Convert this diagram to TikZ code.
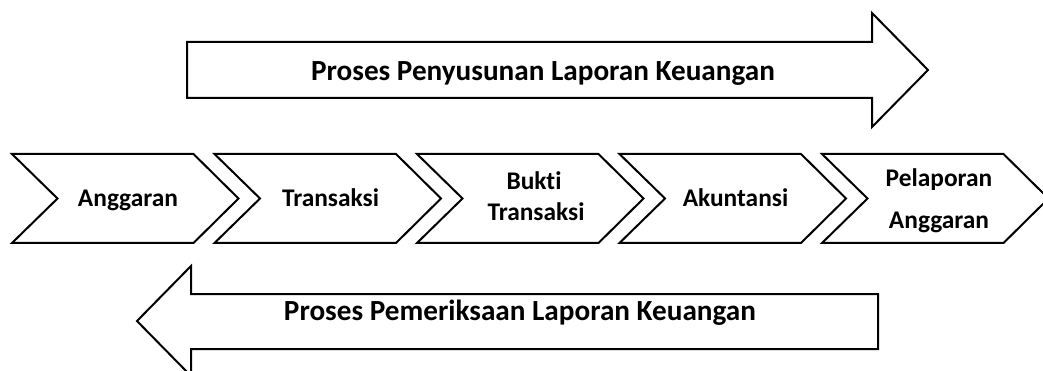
\documentclass[tikz,border=0pt]{standalone}
\usepackage{fontspec}
\setmainfont{Carlito}[Ligatures=NoCommon]
\newcommand\lblfont{\fontsize{25.4}{30}\selectfont\bfseries}
\newcommand\bigfont{\fontsize{29.2}{34}\selectfont\bfseries}
\tikzset{
  outlinebox/.style={draw=black, line width=2pt, fill=white, line join=miter},
  lbl/.style={font=\lblfont, inner sep=0pt, anchor=base},
  biglbl/.style={font=\bigfont, inner sep=0pt, anchor=base}
}
\begin{document}
\begin{tikzpicture}[x=1pt,y=-1pt]
\fill[white] (0,0) rectangle (1043,371);
\useasboundingbox (0,0) rectangle (1043,371);
% top arrow
\draw[outlinebox] (187,42) -- (872,42) -- (872,13) -- (928,70) -- (872,127) -- (872,98) -- (187,98) -- cycle;
\node[biglbl] (top) at (543,81) {Proses Penyusunan Laporan Keuangan};
% bottom arrow
\draw[outlinebox] (878,294) -- (191,294) -- (191,266) -- (137,321) -- (191,376) -- (191,349) -- (878,349) -- cycle;
\node[biglbl] (bottom) at (520,320) {Proses Pemeriksaan Laporan Keuangan};
% chevrons
\foreach \L in {12,214.5,417,619.5,822}{
  \draw[outlinebox] (\L,154) -- ({\L+181.5},154) -- ({\L+226.5},198.5) -- ({\L+181.5},243) -- (\L,243) -- ({\L+45.5},198.5) -- cycle;
}
\node[lbl] (c1) at (128,207) {Anggaran};
\node[lbl] (c2) at (330.5,207) {Transaksi};
\node[lbl] (c3a) at (534,190) {Bukti};
\node[lbl] (c3b) at (536,221) {Transaksi};
\node[lbl] (c4) at (735.5,207) {Akuntansi};
\node[lbl] (c5a) at (939,187) {Pelaporan};
\node[lbl] (c5b) at (939,229) {Anggaran};
\end{tikzpicture}
\end{document}
